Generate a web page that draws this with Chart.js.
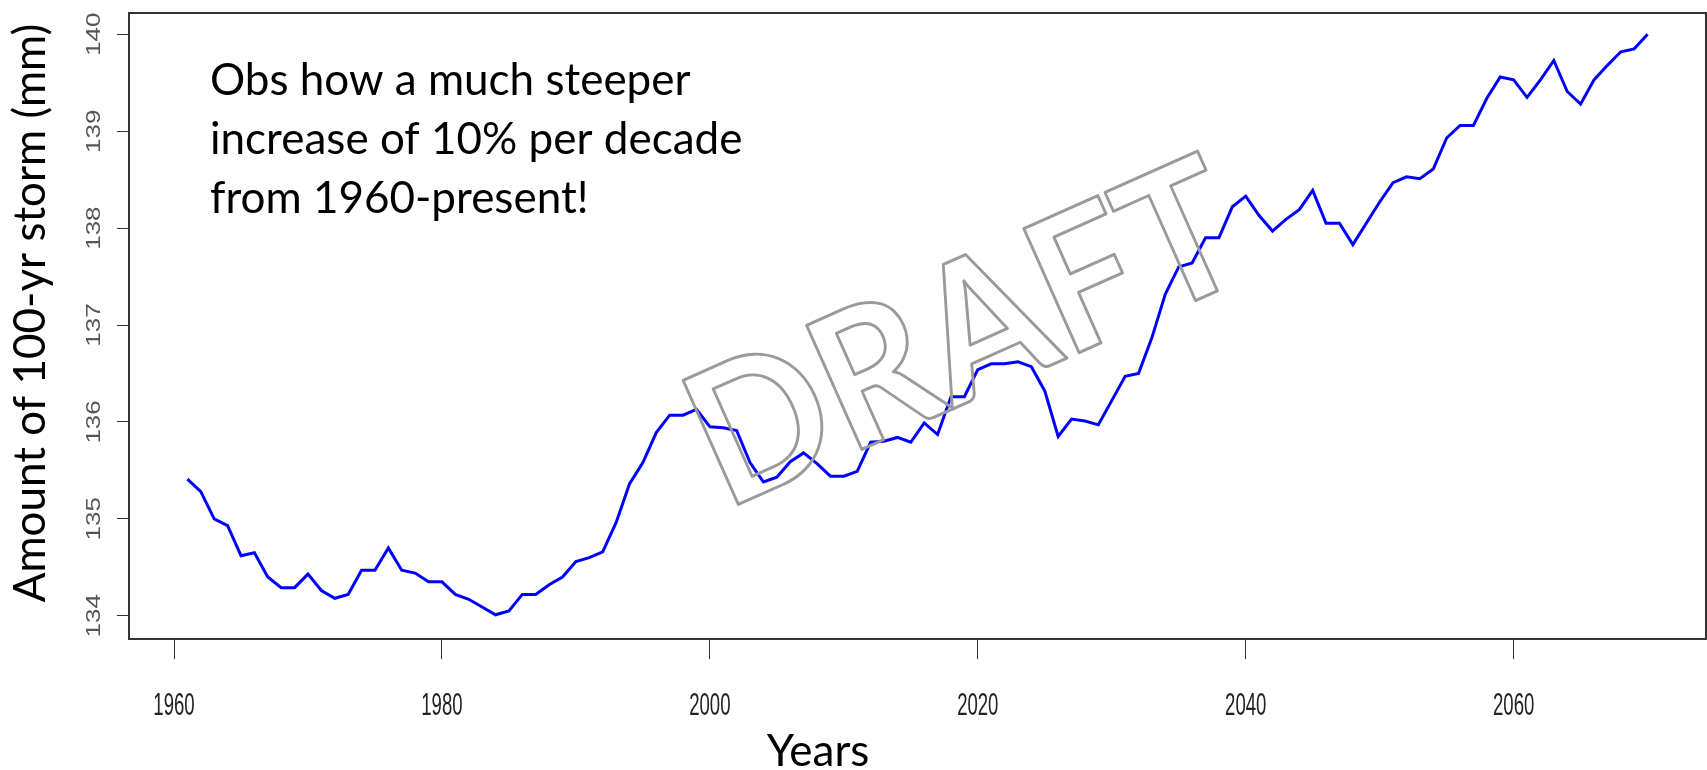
<!DOCTYPE html>
<html>
<head>
<meta charset="utf-8">
<title>100-yr storm</title>
<script src="https://cdn.jsdelivr.net/npm/chart.js@4.4.1/dist/chart.umd.min.js"></script>
<style>
  html, body { margin: 0; padding: 0; background: #fff; }
  #wrap { width: 1707px; height: 770px; position: relative; }
</style>
</head>
<body>
<div id="wrap"><canvas id="chart"></canvas></div>
<script>
// years on the x axis
const years = [
  1961, 1962, 1963, 1964, 1965, 1966, 1967, 1968, 1969, 1970,
  1971, 1972, 1973, 1974, 1975, 1976, 1977, 1978, 1979, 1980,
  1981, 1982, 1983, 1984, 1985, 1986, 1987, 1988, 1989, 1990,
  1991, 1992, 1993, 1994, 1995, 1996, 1997, 1998, 1999, 2000,
  2001, 2002, 2003, 2004, 2005, 2006, 2007, 2008, 2009, 2010,
  2011, 2012, 2013, 2014, 2015, 2016, 2017, 2018, 2019, 2020,
  2021, 2022, 2023, 2024, 2025, 2026, 2027, 2028, 2029, 2030,
  2031, 2032, 2033, 2034, 2035, 2036, 2037, 2038, 2039, 2040,
  2041, 2042, 2043, 2044, 2045, 2046, 2047, 2048, 2049, 2050,
  2051, 2052, 2053, 2054, 2055, 2056, 2057, 2058, 2059, 2060,
  2061, 2062, 2063, 2064, 2065, 2066, 2067, 2068, 2069, 2070
];

// amount of 100-yr storm (mm)
const stormAmount = [
  135.41, 135.28, 135.00, 134.93, 134.62, 134.65, 134.40, 134.29, 134.29, 134.43,
  134.26, 134.18, 134.22, 134.47, 134.47, 134.70, 134.47, 134.44, 134.35, 134.35,
  134.22, 134.17, 134.09, 134.01, 134.05, 134.22, 134.22, 134.32, 134.40, 134.56,
  134.60, 134.66, 134.96, 135.36, 135.58, 135.89, 136.07, 136.07, 136.13, 135.95,
  135.94, 135.91, 135.58, 135.38, 135.43, 135.59, 135.68, 135.57, 135.44, 135.44,
  135.49, 135.79, 135.80, 135.84, 135.79, 135.99, 135.87, 136.26, 136.26, 136.54,
  136.60, 136.60, 136.62, 136.57, 136.32, 135.85, 136.03, 136.01, 135.97, 136.22,
  136.47, 136.50, 136.87, 137.32, 137.60, 137.64, 137.90, 137.90, 138.22, 138.33,
  138.13, 137.97, 138.09, 138.19, 138.39, 138.05, 138.05, 137.83, 138.05, 138.27,
  138.47, 138.53, 138.51, 138.61, 138.93, 139.06, 139.06, 139.34, 139.56, 139.53,
  139.35, 139.53, 139.73, 139.41, 139.28, 139.53, 139.68, 139.82, 139.85, 140.00
];

const xTicks = [1960, 1980, 2000, 2020, 2040, 2060];
const yTicks = [134, 135, 136, 137, 138, 139, 140];

const xTitle = 'Years';
const yTitle = 'Amount of 100-yr storm (mm)';
const noteLines = ['Obs how a much steeper', 'increase of 10% per decade', 'from 1960-present!'];
const watermark = 'DRAFT';

const bigFont = 'Lato, "Open Sans", sans-serif';
const tickFont = '"Liberation Sans", Arial, sans-serif';

// draws frame, tick labels, titles, note and watermark
const decorPlugin = {
  id: 'decor',
  afterDraw(chart) {
    const { ctx, chartArea: a, scales } = chart;
    ctx.save();

    // box round the plot
    ctx.strokeStyle = '#333';
    ctx.lineWidth = 2;
    ctx.strokeRect(a.left, a.top, a.right - a.left, a.bottom - a.top);

    // x tick labels (narrow, like the R output)
    ctx.fillStyle = '#222';
    ctx.font = '32px ' + tickFont;
    ctx.textAlign = 'center';
    ctx.textBaseline = 'alphabetic';
    scales.x.ticks.forEach(t => {
      const px = scales.x.getPixelForValue(t.value);
      ctx.save();
      ctx.translate(px, 715);
      ctx.scale(0.58, 1);
      ctx.fillText(String(t.value), 0, 0);
      ctx.restore();
    });

    // y tick labels, turned to read upwards
    ctx.fillStyle = '#555';
    ctx.font = '26px ' + tickFont;
    scales.y.ticks.forEach(t => {
      const py = scales.y.getPixelForValue(t.value);
      ctx.save();
      ctx.translate(100, py);
      ctx.rotate(-Math.PI / 2);
      ctx.scale(1, 0.78);
      ctx.fillText(String(t.value), 0, 0);
      ctx.restore();
    });

    // axis titles
    ctx.fillStyle = '#000';
    ctx.font = '44px ' + bigFont;
    ctx.fillText(xTitle, 818, 766);
    ctx.save();
    ctx.translate(45, 313);
    ctx.rotate(-Math.PI / 2);
    ctx.fillText(yTitle, 0, 0);
    ctx.restore();

    // note in the upper left
    ctx.textAlign = 'left';
    noteLines.forEach((line, i) => {
      ctx.fillText(line, 210, 95 + i * 59);
    });

    // DRAFT stamp, outlined only
    ctx.save();
    ctx.font = 'bold 188px ' + bigFont;
    ctx.textAlign = 'center';
    const w = ctx.measureText(watermark).width;
    ctx.translate(963, 331);
    ctx.rotate(-24 * Math.PI / 180);
    ctx.scale(580 / w, 1);
    ctx.strokeStyle = '#9a9a9a';
    ctx.lineWidth = 3;
    ctx.lineJoin = 'round';
    ctx.strokeText(watermark, 0, 67);
    ctx.restore();

    ctx.restore();
  }
};

const ctx = document.getElementById('chart').getContext('2d');
new Chart(ctx, {
  type: 'line',
  data: {
    datasets: [{
      data: years.map((yr, i) => ({ x: yr, y: stormAmount[i] })),
      borderColor: '#0000ff',
      borderWidth: 3,
      pointRadius: 0,
      tension: 0,
      fill: false
    }]
  },
  options: {
    responsive: true,
    maintainAspectRatio: false,
    animation: false,
    events: [],
    layout: { padding: { top: 13, right: 1, left: 0, bottom: 0 } },
    plugins: {
      legend: { display: false },
      tooltip: { enabled: false }
    },
    scales: {
      x: {
        type: 'linear',
        min: 1956.64,
        max: 2074.36,
        afterBuildTicks: s => { s.ticks = xTicks.map(v => ({ value: v })); },
        afterFit: s => { s.height = 131; },
        ticks: { display: false },
        border: { display: false },
        grid: { drawOnChartArea: false, tickLength: 20, color: '#333', lineWidth: 1 }
      },
      y: {
        type: 'linear',
        min: 133.76,
        max: 140.22,
        afterBuildTicks: s => { s.ticks = yTicks.map(v => ({ value: v })); },
        afterFit: s => { s.width = 129; },
        ticks: { display: false },
        border: { display: false },
        grid: { drawOnChartArea: false, tickLength: 12, color: '#333', lineWidth: 1 }
      }
    }
  },
  plugins: [decorPlugin]
});
</script>
</body>
</html>
